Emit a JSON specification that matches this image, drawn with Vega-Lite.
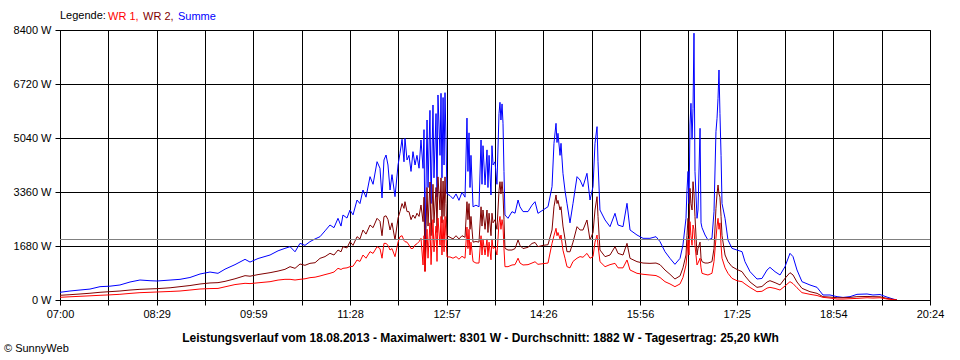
{
  "$schema": "https://vega.github.io/schema/vega-lite/v6.json",
  "width": 870,
  "height": 270,
  "autosize": {"type": "none"},
  "padding": {"left": 60, "top": 30, "right": 30, "bottom": 60},
  "background": "white",
  "config": {
    "view": {"stroke": "black", "strokeWidth": 1},
    "font": "Liberation Sans",
    "axis": {
      "grid": true, "gridColor": "black", "gridOpacity": 1, "gridWidth": 1,
      "domainColor": "black", "domainWidth": 1,
      "tickColor": "black", "tickSize": 5, "tickWidth": 1,
      "labelColor": "black", "labelFont": "Liberation Sans", "labelFontSize": 11,
      "labelPadding": 3
    }
  },
  "title": {
    "text": "© SunnyWeb",
    "orient": "bottom",
    "anchor": "start",
    "frame": "group",
    "dx": -56,
    "offset": 0,
    "fontSize": 11,
    "fontWeight": "normal",
    "font": "Liberation Sans",
    "color": "black"
  },
  "data": {
    "values": [
      {"t": 420.0, "WR 1": 84, "WR 2": 146, "Summe": 240},
      {"t": 429.2, "WR 1": 100, "WR 2": 165, "Summe": 280},
      {"t": 438.5, "WR 1": 115, "WR 2": 187, "Summe": 311},
      {"t": 447.7, "WR 1": 130, "WR 2": 210, "Summe": 340},
      {"t": 457.0, "WR 1": 146, "WR 2": 240, "Summe": 415},
      {"t": 466.2, "WR 1": 160, "WR 2": 260, "Summe": 430},
      {"t": 475.4, "WR 1": 177, "WR 2": 280, "Summe": 467},
      {"t": 484.7, "WR 1": 205, "WR 2": 310, "Summe": 560},
      {"t": 493.9, "WR 1": 228, "WR 2": 332, "Summe": 622},
      {"t": 503.2, "WR 1": 240, "WR 2": 345, "Summe": 600},
      {"t": 509.6, "WR 1": 249, "WR 2": 353, "Summe": 591},
      {"t": 521.7, "WR 1": 265, "WR 2": 380, "Summe": 620},
      {"t": 530.9, "WR 1": 280, "WR 2": 415, "Summe": 643},
      {"t": 540.1, "WR 1": 310, "WR 2": 450, "Summe": 700},
      {"t": 549.4, "WR 1": 342, "WR 2": 498, "Summe": 809},
      {"t": 558.6, "WR 1": 355, "WR 2": 530, "Summe": 870},
      {"t": 566.0, "WR 1": 360, "WR 2": 540, "Summe": 830},
      {"t": 572.5, "WR 1": 410, "WR 2": 580, "Summe": 960},
      {"t": 581.7, "WR 1": 480, "WR 2": 660, "Summe": 1100},
      {"t": 591.0, "WR 1": 519, "WR 2": 757, "Summe": 1265},
      {"t": 595.6, "WR 1": 510, "WR 2": 740, "Summe": 1180},
      {"t": 603.0, "WR 1": 535, "WR 2": 790, "Summe": 1290},
      {"t": 614.1, "WR 1": 570, "WR 2": 850, "Summe": 1400},
      {"t": 621.5, "WR 1": 620, "WR 2": 900, "Summe": 1530},
      {"t": 627.9, "WR 1": 643, "WR 2": 954, "Summe": 1607},
      {"t": 632.6, "WR 1": 643, "WR 2": 1037, "Summe": 1659},
      {"t": 637.2, "WR 1": 622, "WR 2": 985, "Summe": 1500},
      {"t": 641.8, "WR 1": 643, "WR 2": 1120, "Summe": 1763},
      {"t": 646.4, "WR 1": 660, "WR 2": 1080, "Summe": 1700},
      {"t": 651.0, "WR 1": 695, "WR 2": 1140, "Summe": 1815},
      {"t": 655.7, "WR 1": 710, "WR 2": 1160, "Summe": 1900},
      {"t": 660.3, "WR 1": 747, "WR 2": 1296, "Summe": 1970},
      {"t": 664.9, "WR 1": 790, "WR 2": 1350, "Summe": 2150},
      {"t": 669.5, "WR 1": 830, "WR 2": 1452, "Summe": 2333},
      {"t": 673.2, "WR 1": 870, "WR 2": 1400, "Summe": 2250},
      {"t": 676.9, "WR 1": 985, "WR 2": 1555, "Summe": 2541},
      {"t": 679.7, "WR 1": 950, "WR 2": 1500, "Summe": 2300},
      {"t": 681.5, "WR 1": 985, "WR 2": 1659, "Summe": 2644},
      {"t": 685.2, "WR 1": 1000, "WR 2": 1620, "Summe": 2550},
      {"t": 688.0, "WR 1": 1037, "WR 2": 1815, "Summe": 2800},
      {"t": 690.8, "WR 1": 1050, "WR 2": 1700, "Summe": 2650},
      {"t": 694.5, "WR 1": 1244, "WR 2": 1970, "Summe": 3111},
      {"t": 697.2, "WR 1": 1200, "WR 2": 1900, "Summe": 3000},
      {"t": 700.0, "WR 1": 1400, "WR 2": 2178, "Summe": 3422},
      {"t": 702.8, "WR 1": 1300, "WR 2": 2050, "Summe": 3200},
      {"t": 706.5, "WR 1": 1504, "WR 2": 2333, "Summe": 3837},
      {"t": 709.3, "WR 1": 1450, "WR 2": 2250, "Summe": 3600},
      {"t": 713.0, "WR 1": 1659, "WR 2": 2541, "Summe": 4303},
      {"t": 715.7, "WR 1": 1600, "WR 2": 2450, "Summe": 4100},
      {"t": 717.6, "WR 1": 1300, "WR 2": 2000, "Summe": 3174},
      {"t": 719.4, "WR 1": 1763, "WR 2": 2593, "Summe": 4356},
      {"t": 721.3, "WR 1": 1760, "WR 2": 2620, "Summe": 4511},
      {"t": 723.1, "WR 1": 1700, "WR 2": 2500, "Summe": 4200},
      {"t": 725.0, "WR 1": 1555, "WR 2": 2178, "Summe": 3422},
      {"t": 726.8, "WR 1": 1600, "WR 2": 2400, "Summe": 3900},
      {"t": 729.6, "WR 1": 1348, "WR 2": 1867, "Summe": 3215},
      {"t": 732.4, "WR 1": 1800, "WR 2": 2550, "Summe": 4200},
      {"t": 734.2, "WR 1": 1970, "WR 2": 2748, "Summe": 4563},
      {"t": 736.1, "WR 1": 2000, "WR 2": 3000, "Summe": 5000},
      {"t": 737.9, "WR 1": 1850, "WR 2": 2850, "Summe": 4300},
      {"t": 738.8, "WR 1": 1815, "WR 2": 3058, "Summe": 5030},
      {"t": 740.7, "WR 1": 1800, "WR 2": 2750, "Summe": 4356},
      {"t": 742.5, "WR 1": 1711, "WR 2": 2748, "Summe": 4500},
      {"t": 744.4, "WR 1": 1600, "WR 2": 2500, "Summe": 4000},
      {"t": 746.2, "WR 1": 1607, "WR 2": 2644, "Summe": 4615},
      {"t": 748.1, "WR 1": 1711, "WR 2": 2541, "Summe": 4200},
      {"t": 749.9, "WR 1": 1750, "WR 2": 2700, "Summe": 4500},
      {"t": 751.8, "WR 1": 1815, "WR 2": 2600, "Summe": 4100},
      {"t": 753.6, "WR 1": 1919, "WR 2": 2956, "Summe": 4978},
      {"t": 755.5, "WR 1": 1089, "WR 2": 2437, "Summe": 4096},
      {"t": 756.4, "WR 1": 2000, "WR 2": 3200, "Summe": 5300},
      {"t": 757.3, "WR 1": 880, "WR 2": 900, "Summe": 1500},
      {"t": 759.2, "WR 1": 2200, "WR 2": 3500, "Summe": 5600},
      {"t": 760.1, "WR 1": 1300, "WR 2": 2300, "Summe": 3500},
      {"t": 761.9, "WR 1": 2400, "WR 2": 3670, "Summe": 5900},
      {"t": 762.9, "WR 1": 1100, "WR 2": 2000, "Summe": 3000},
      {"t": 764.7, "WR 1": 2500, "WR 2": 3600, "Summe": 6067},
      {"t": 765.6, "WR 1": 1500, "WR 2": 2400, "Summe": 3800},
      {"t": 767.5, "WR 1": 2300, "WR 2": 3500, "Summe": 5800},
      {"t": 768.4, "WR 1": 1200, "WR 2": 2100, "Summe": 3200},
      {"t": 769.3, "WR 1": 2550, "WR 2": 3830, "Summe": 6378},
      {"t": 771.2, "WR 1": 1700, "WR 2": 2800, "Summe": 4500},
      {"t": 772.1, "WR 1": 2600, "WR 2": 3800, "Summe": 6430},
      {"t": 773.0, "WR 1": 1400, "WR 2": 2400, "Summe": 3800},
      {"t": 774.0, "WR 1": 2500, "WR 2": 3700, "Summe": 6300},
      {"t": 774.9, "WR 1": 1500, "WR 2": 2600, "Summe": 4200},
      {"t": 775.8, "WR 1": 2600, "WR 2": 3830, "Summe": 6450},
      {"t": 776.7, "WR 1": 2000, "WR 2": 3000, "Summe": 5000},
      {"t": 777.6, "WR 1": 1340, "WR 2": 2000, "Summe": 3300},
      {"t": 780.4, "WR 1": 1340, "WR 2": 1950, "Summe": 3250},
      {"t": 783.2, "WR 1": 1300, "WR 2": 1900, "Summe": 3150},
      {"t": 786.0, "WR 1": 1350, "WR 2": 2000, "Summe": 3300},
      {"t": 788.7, "WR 1": 1270, "WR 2": 1900, "Summe": 3100},
      {"t": 791.5, "WR 1": 1360, "WR 2": 2000, "Summe": 3350},
      {"t": 794.3, "WR 1": 1300, "WR 2": 1950, "Summe": 3200},
      {"t": 796.1, "WR 1": 2270, "WR 2": 3058, "Summe": 5660},
      {"t": 797.0, "WR 1": 1600, "WR 2": 2500, "Summe": 4000},
      {"t": 798.0, "WR 1": 2200, "WR 2": 3000, "Summe": 5200},
      {"t": 798.9, "WR 1": 1400, "WR 2": 2200, "Summe": 3500},
      {"t": 799.8, "WR 1": 1800, "WR 2": 2600, "Summe": 4500},
      {"t": 801.7, "WR 1": 1200, "WR 2": 1800, "Summe": 2900},
      {"t": 804.4, "WR 1": 1150, "WR 2": 1820, "Summe": 2950},
      {"t": 807.2, "WR 1": 1150, "WR 2": 1800, "Summe": 2900},
      {"t": 809.1, "WR 1": 2000, "WR 2": 2900, "Summe": 4978},
      {"t": 810.0, "WR 1": 1400, "WR 2": 2300, "Summe": 3600},
      {"t": 810.9, "WR 1": 1900, "WR 2": 2800, "Summe": 4800},
      {"t": 812.8, "WR 1": 1400, "WR 2": 2200, "Summe": 3580},
      {"t": 814.6, "WR 1": 1900, "WR 2": 2800, "Summe": 4670},
      {"t": 815.5, "WR 1": 1350, "WR 2": 2100, "Summe": 3500},
      {"t": 816.5, "WR 1": 1800, "WR 2": 2700, "Summe": 4500},
      {"t": 818.3, "WR 1": 1250, "WR 2": 2000, "Summe": 3267},
      {"t": 819.2, "WR 1": 1900, "WR 2": 2700, "Summe": 4800},
      {"t": 820.2, "WR 1": 1600, "WR 2": 2400, "Summe": 4200},
      {"t": 822.0, "WR 1": 1650, "WR 2": 2500, "Summe": 4300},
      {"t": 823.8, "WR 1": 1400, "WR 2": 2200, "Summe": 3600},
      {"t": 825.7, "WR 1": 2400, "WR 2": 3400, "Summe": 5800},
      {"t": 826.6, "WR 1": 2600, "WR 2": 3680, "Summe": 6150},
      {"t": 827.5, "WR 1": 2200, "WR 2": 3300, "Summe": 5600},
      {"t": 828.5, "WR 1": 2500, "WR 2": 3680, "Summe": 6100},
      {"t": 829.4, "WR 1": 2300, "WR 2": 3300, "Summe": 5500},
      {"t": 830.3, "WR 1": 1600, "WR 2": 2500, "Summe": 4000},
      {"t": 831.2, "WR 1": 1037, "WR 2": 1607, "Summe": 2644},
      {"t": 834.0, "WR 1": 1037, "WR 2": 1555, "Summe": 2541},
      {"t": 837.7, "WR 1": 1089, "WR 2": 1555, "Summe": 2748},
      {"t": 840.5, "WR 1": 1100, "WR 2": 1600, "Summe": 2700},
      {"t": 843.3, "WR 1": 1300, "WR 2": 1867, "Summe": 3111},
      {"t": 845.1, "WR 1": 1150, "WR 2": 1700, "Summe": 2900},
      {"t": 847.9, "WR 1": 1089, "WR 2": 1600, "Summe": 2750},
      {"t": 852.5, "WR 1": 1100, "WR 2": 1640, "Summe": 2750},
      {"t": 856.2, "WR 1": 1150, "WR 2": 1760, "Summe": 2950},
      {"t": 859.0, "WR 1": 1190, "WR 2": 1790, "Summe": 3058},
      {"t": 861.7, "WR 1": 1110, "WR 2": 1659, "Summe": 2696},
      {"t": 866.4, "WR 1": 1130, "WR 2": 1700, "Summe": 2800},
      {"t": 871.0, "WR 1": 1150, "WR 2": 1720, "Summe": 2903},
      {"t": 874.7, "WR 1": 1763, "WR 2": 2178, "Summe": 3525},
      {"t": 876.5, "WR 1": 2000, "WR 2": 2900, "Summe": 4874},
      {"t": 878.4, "WR 1": 2230, "WR 2": 3267, "Summe": 5496},
      {"t": 879.3, "WR 1": 2000, "WR 2": 3000, "Summe": 4900},
      {"t": 880.2, "WR 1": 2100, "WR 2": 3100, "Summe": 5185},
      {"t": 882.1, "WR 1": 1900, "WR 2": 2800, "Summe": 4500},
      {"t": 883.0, "WR 1": 2022, "WR 2": 2903, "Summe": 4874},
      {"t": 884.8, "WR 1": 1550, "WR 2": 2300, "Summe": 3941},
      {"t": 886.7, "WR 1": 1300, "WR 2": 1900, "Summe": 3400},
      {"t": 888.5, "WR 1": 1037, "WR 2": 1504, "Summe": 3008},
      {"t": 891.3, "WR 1": 1000, "WR 2": 1500, "Summe": 2400},
      {"t": 894.1, "WR 1": 1200, "WR 2": 1800, "Summe": 3008},
      {"t": 897.8, "WR 1": 1300, "WR 2": 2281, "Summe": 3837},
      {"t": 900.6, "WR 1": 1350, "WR 2": 2178, "Summe": 3733},
      {"t": 903.3, "WR 1": 1330, "WR 2": 2178, "Summe": 3525},
      {"t": 907.0, "WR 1": 1450, "WR 2": 2489, "Summe": 3941},
      {"t": 909.8, "WR 1": 1300, "WR 2": 1867, "Summe": 3111},
      {"t": 912.6, "WR 1": 1350, "WR 2": 2100, "Summe": 3525},
      {"t": 914.4, "WR 1": 1800, "WR 2": 2800, "Summe": 4874},
      {"t": 916.3, "WR 1": 2022, "WR 2": 3215, "Summe": 5393},
      {"t": 917.2, "WR 1": 1700, "WR 2": 2600, "Summe": 4300},
      {"t": 919.0, "WR 1": 1193, "WR 2": 1555, "Summe": 2800},
      {"t": 923.7, "WR 1": 1037, "WR 2": 1348, "Summe": 2489},
      {"t": 928.3, "WR 1": 1100, "WR 2": 1400, "Summe": 2281},
      {"t": 932.9, "WR 1": 1141, "WR 2": 1659, "Summe": 2696},
      {"t": 935.7, "WR 1": 1000, "WR 2": 1450, "Summe": 2333},
      {"t": 940.3, "WR 1": 1000, "WR 2": 1400, "Summe": 2281},
      {"t": 944.0, "WR 1": 1245, "WR 2": 1763, "Summe": 3008},
      {"t": 946.8, "WR 1": 933, "WR 2": 1296, "Summe": 2178},
      {"t": 953.2, "WR 1": 830, "WR 2": 1193, "Summe": 2022},
      {"t": 958.8, "WR 1": 800, "WR 2": 1150, "Summe": 1919},
      {"t": 965.2, "WR 1": 778, "WR 2": 1140, "Summe": 1919},
      {"t": 970.8, "WR 1": 760, "WR 2": 1150, "Summe": 1970},
      {"t": 974.5, "WR 1": 700, "WR 2": 1100, "Summe": 1815},
      {"t": 979.1, "WR 1": 570, "WR 2": 933, "Summe": 1504},
      {"t": 983.7, "WR 1": 500, "WR 2": 800, "Summe": 1296},
      {"t": 988.3, "WR 1": 415, "WR 2": 653, "Summe": 1110},
      {"t": 993.0, "WR 1": 500, "WR 2": 750, "Summe": 1296},
      {"t": 995.7, "WR 1": 700, "WR 2": 1000, "Summe": 1711},
      {"t": 998.5, "WR 1": 1089, "WR 2": 1400, "Summe": 2541},
      {"t": 999.4, "WR 1": 1400, "WR 2": 2000, "Summe": 3400},
      {"t": 1000.4, "WR 1": 1919, "WR 2": 2541, "Summe": 4000},
      {"t": 1001.3, "WR 1": 1400, "WR 2": 2000, "Summe": 3000},
      {"t": 1002.2, "WR 1": 2437, "WR 2": 3474, "Summe": 5444},
      {"t": 1003.1, "WR 1": 2000, "WR 2": 3000, "Summe": 6119},
      {"t": 1004.1, "WR 1": 1700, "WR 2": 2800, "Summe": 5000},
      {"t": 1005.0, "WR 1": 2333, "WR 2": 3681, "Summe": 5963},
      {"t": 1005.9, "WR 1": 2200, "WR 2": 3300, "Summe": 8301},
      {"t": 1006.8, "WR 1": 1700, "WR 2": 2600, "Summe": 4000},
      {"t": 1008.7, "WR 1": 1089, "WR 2": 1400, "Summe": 2541},
      {"t": 1009.6, "WR 1": 1150, "WR 2": 1600, "Summe": 2800},
      {"t": 1011.5, "WR 1": 1300, "WR 2": 1800, "Summe": 5341},
      {"t": 1012.4, "WR 1": 1000, "WR 2": 1300, "Summe": 2400},
      {"t": 1013.3, "WR 1": 830, "WR 2": 1193, "Summe": 2250},
      {"t": 1016.1, "WR 1": 800, "WR 2": 1150, "Summe": 2022},
      {"t": 1018.8, "WR 1": 778, "WR 2": 1150, "Summe": 1867},
      {"t": 1022.5, "WR 1": 830, "WR 2": 1193, "Summe": 1919},
      {"t": 1024.4, "WR 1": 1200, "WR 2": 1600, "Summe": 2748},
      {"t": 1026.2, "WR 1": 1919, "WR 2": 2852, "Summe": 5237},
      {"t": 1027.2, "WR 1": 2300, "WR 2": 3300, "Summe": 5652},
      {"t": 1028.1, "WR 1": 2541, "WR 2": 3578, "Summe": 6275},
      {"t": 1029.0, "WR 1": 2200, "WR 2": 3300, "Summe": 7156},
      {"t": 1029.9, "WR 1": 2400, "WR 2": 3200, "Summe": 5800},
      {"t": 1030.9, "WR 1": 1700, "WR 2": 2600, "Summe": 4500},
      {"t": 1031.8, "WR 1": 1300, "WR 2": 2000, "Summe": 3000},
      {"t": 1034.6, "WR 1": 1000, "WR 2": 1400, "Summe": 2541},
      {"t": 1037.3, "WR 1": 830, "WR 2": 1193, "Summe": 1867},
      {"t": 1041.0, "WR 1": 674, "WR 2": 1037, "Summe": 1607},
      {"t": 1045.6, "WR 1": 600, "WR 2": 950, "Summe": 1555},
      {"t": 1050.3, "WR 1": 570, "WR 2": 881, "Summe": 1504},
      {"t": 1053.0, "WR 1": 500, "WR 2": 750, "Summe": 1193},
      {"t": 1057.7, "WR 1": 390, "WR 2": 560, "Summe": 881},
      {"t": 1064.1, "WR 1": 259, "WR 2": 394, "Summe": 653},
      {"t": 1068.7, "WR 1": 270, "WR 2": 420, "Summe": 670},
      {"t": 1073.4, "WR 1": 370, "WR 2": 560, "Summe": 933},
      {"t": 1076.1, "WR 1": 394, "WR 2": 601, "Summe": 1016},
      {"t": 1080.8, "WR 1": 360, "WR 2": 540, "Summe": 880},
      {"t": 1085.4, "WR 1": 310, "WR 2": 470, "Summe": 778},
      {"t": 1090.0, "WR 1": 436, "WR 2": 674, "Summe": 1037},
      {"t": 1094.6, "WR 1": 570, "WR 2": 850, "Summe": 1452},
      {"t": 1097.4, "WR 1": 510, "WR 2": 780, "Summe": 1350},
      {"t": 1101.1, "WR 1": 380, "WR 2": 560, "Summe": 933},
      {"t": 1105.7, "WR 1": 228, "WR 2": 363, "Summe": 570},
      {"t": 1113.1, "WR 1": 176, "WR 2": 259, "Summe": 467},
      {"t": 1119.6, "WR 1": 140, "WR 2": 207, "Summe": 394},
      {"t": 1125.1, "WR 1": 83, "WR 2": 104, "Summe": 156},
      {"t": 1131.6, "WR 1": 60, "WR 2": 90, "Summe": 156},
      {"t": 1138.1, "WR 1": 30, "WR 2": 72, "Summe": 104},
      {"t": 1143.6, "WR 1": 30, "WR 2": 72, "Summe": 80},
      {"t": 1150.1, "WR 1": 40, "WR 2": 80, "Summe": 104},
      {"t": 1156.5, "WR 1": 50, "WR 2": 104, "Summe": 176},
      {"t": 1165.8, "WR 1": 70, "WR 2": 110, "Summe": 187},
      {"t": 1171.3, "WR 1": 60, "WR 2": 104, "Summe": 156},
      {"t": 1177.8, "WR 1": 70, "WR 2": 100, "Summe": 170},
      {"t": 1184.3, "WR 1": 30, "WR 2": 50, "Summe": 90},
      {"t": 1189.8, "WR 1": 10, "WR 2": 20, "Summe": 31},
      {"t": 1193.5, "WR 1": 0, "WR 2": 0, "Summe": 0}
    ]
  },
  "layer": [
    {
      "mark": {"type": "line", "strokeWidth": 1, "clip": true},
      "encoding": {
        "x": {
          "field": "t",
          "type": "quantitative",
          "scale": {"domain": [420, 1224], "nice": false, "zero": false},
          "axis": {
            "values": [420, 464.6667, 509.3333, 554, 598.6667, 643.3333, 688, 732.6667, 777.3333, 822, 866.6667, 911.3333, 956, 1000.6667, 1045.3333, 1090, 1134.6667, 1179.3333, 1224],
            "labelExpr": "['07:00','','08:29','','09:59','','11:28','','12:57','','14:26','','15:56','','17:25','','18:54','','20:24'][round((datum.value-420)/44.66667)]",
            "labelFlush": false,
            "labelOverlap": false,
            "title": "Leistungsverlauf vom 18.08.2013 - Maximalwert: 8301 W - Durchschnitt: 1882 W - Tagesertrag: 25,20 kWh",
            "titleFont": "Liberation Sans",
            "titleFontSize": 12,
            "titleFontWeight": "bold",
            "titleColor": "black",
            "titleX": 420,
            "titleY": 37,
            "titleAlign": "center",
            "titleBaseline": "middle"
          }
        },
        "y": {
          "field": "Summe",
          "type": "quantitative",
          "scale": {"domain": [0, 8400], "nice": false},
          "axis": {
            "values": [0, 1680, 3360, 5040, 6720, 8400],
            "labelExpr": "datum.value + ' W'",
            "title": null,
            "labelPadding": 4
          }
        },
        "color": {
          "datum": "Summe",
          "scale": {"domain": ["WR 1", "WR 2", "Summe"], "range": ["#ff0000", "#800000", "#0000ff"]},
          "legend": {
            "orient": "none",
            "legendX": 0,
            "legendY": -19,
            "direction": "horizontal",
            "title": "Legende:",
            "titleOrient": "left",
            "titleFont": "Liberation Sans",
            "titleFontSize": 11,
            "titleFontWeight": "normal",
            "titleColor": "black",
            "titlePadding": 2,
            "labelFont": "Liberation Sans",
            "labelFontSize": 11,
            "labelExpr": "datum.label === 'Summe' ? 'Summe' : datum.label + ','",
            "labelOffset": -11,
            "symbolSize": 0,
            "symbolOpacity": 0,
            "symbolStrokeWidth": 0,
            "columnPadding": 4,
            "encode": {
              "labels": {
                "update": {
                  "fill": {"signal": "datum.value === 'WR 1' ? '#ff0000' : (datum.value === 'WR 2' ? '#800000' : '#0000ff')"}
                }
              }
            }
          }
        }
      }
    },
    {
      "mark": {"type": "line", "strokeWidth": 1, "clip": true},
      "encoding": {
        "x": {"field": "t", "type": "quantitative"},
        "y": {"field": "WR 2", "type": "quantitative"},
        "color": {"datum": "WR 2"}
      }
    },
    {
      "mark": {"type": "line", "strokeWidth": 1, "clip": true},
      "encoding": {
        "x": {"field": "t", "type": "quantitative"},
        "y": {"field": "WR 1", "type": "quantitative"},
        "color": {"datum": "WR 1"}
      }
    },
    {
      "data": {"values": [{"avg": 1882}]},
      "mark": {"type": "rule", "color": "#808080", "strokeWidth": 1},
      "encoding": {
        "y": {"field": "avg", "type": "quantitative"}
      }
    }
  ]
}
